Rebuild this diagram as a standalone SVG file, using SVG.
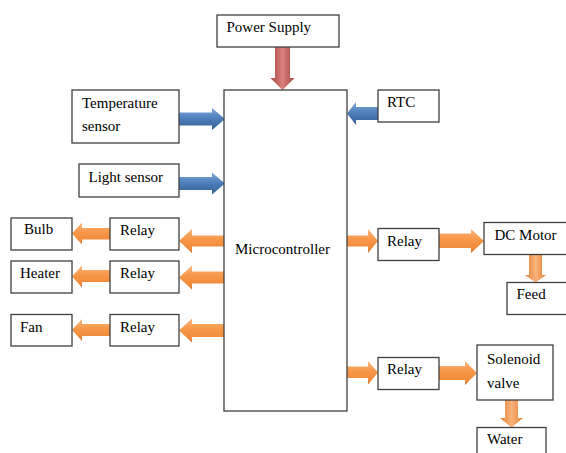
<svg xmlns="http://www.w3.org/2000/svg" width="566" height="453" viewBox="0 0 566 453">
<style>
.box{fill:#fff;stroke:#3f3f3f;stroke-width:1.3}
.ob{fill:url(#gOrH)}
.ov{fill:url(#gOrV)}
.bl{fill:url(#gBlH)}
.rd{fill:url(#gRdV)}
</style>
<defs>
<linearGradient id="gOrH" x1="0" y1="0" x2="0" y2="1">
<stop offset="0" stop-color="#fbb67e"/>
<stop offset="0.45" stop-color="#f79646"/>
<stop offset="0.85" stop-color="#f0893a"/>
<stop offset="1" stop-color="#c5692a"/>
</linearGradient>
<linearGradient id="gOrV" x1="0" y1="0" x2="1" y2="0">
<stop offset="0" stop-color="#e08035"/>
<stop offset="0.5" stop-color="#fbb27a"/>
<stop offset="1" stop-color="#e08035"/>
</linearGradient>
<linearGradient id="gBlH" x1="0" y1="0" x2="0" y2="1">
<stop offset="0" stop-color="#7ea6d6"/>
<stop offset="0.45" stop-color="#4f81bd"/>
<stop offset="1" stop-color="#345f93"/>
</linearGradient>
<linearGradient id="gRdV" x1="0" y1="0" x2="1" y2="0">
<stop offset="0" stop-color="#a94441"/>
<stop offset="0.5" stop-color="#d9807d"/>
<stop offset="1" stop-color="#a94441"/>
</linearGradient>
</defs>

<g id="connectors">
<polygon class="rd" points="275,47 290,47 290,78 294.5,78 282.5,90 270.5,78 275,78"/>
<polygon class="bl" points="179,112.5 212,112.5 212,108 225,119 212,130 212,125.5 179,125.5"/>
<polygon class="bl" points="179,177 212,177 212,172.5 225,183.5 212,194.5 212,190 179,190"/>
<polygon class="bl" points="378,107 356,107 356,102 347,113.5 356,125 356,120 378,120"/>
<polygon class="ob" points="224,235.5 192,235.5 192,229 179,241 192,253 192,246.5 224,246.5"/>
<polygon class="ob" points="224,271.5 192,271.5 192,265.5 179,277.5 192,289.5 192,283.5 224,283.5"/>
<polygon class="ob" points="224,324 192,324 192,318.5 179,330.5 192,342.5 192,337 224,337"/>
<polygon class="ob" points="110,228 82,228 82,222.5 72,233.5 82,244.5 82,239.5 110,239.5"/>
<polygon class="ob" points="110,270 82,270 82,265.5 72,276.5 82,287.5 82,282 110,282"/>
<polygon class="ob" points="110,324 82,324 82,319 72,330 82,341 82,336 110,336"/>
<polygon class="ob" points="347,235.5 368,235.5 368,229 378,241 368,253 368,246.5 347,246.5"/>
<polygon class="ob" points="439,233.5 471,233.5 471,229 484,241 471,253 471,248 439,248"/>
<polygon class="ov" points="529,254.5 542,254.5 542,275 546,275 535.5,282.5 525,275 529,275"/>
<polygon class="ob" points="347,366.5 368,366.5 368,361 378,372.5 368,384.5 368,378 347,378"/>
<polygon class="ob" points="439,366 465,366 465,361 477,373 465,385 465,380 439,380"/>
<polygon class="ov" points="505,400 518,400 518,418 523,418 511.5,427.5 500,418 505,418"/>
</g>

<g font-family="Liberation Serif, DejaVu Serif, serif" font-size="15" fill="#000">
<g id="power-supply"><rect class="box" x="217" y="15" width="122" height="32"/><text x="226.5" y="31.5">Power Supply</text></g>
<g id="microcontroller"><rect class="box" x="224" y="90" width="123" height="321"/><text x="235" y="253.5">Microcontroller</text></g>
<g id="temperature-sensor"><rect class="box" x="72" y="90" width="107" height="53"/><text x="82" y="107.5">Temperature</text><text x="82" y="130.5">sensor</text></g>
<g id="light-sensor"><rect class="box" x="79" y="164" width="100" height="33"/><text x="88.5" y="181.5">Light sensor</text></g>
<g id="rtc"><rect class="box" x="378" y="90" width="61" height="32"/><text x="387" y="106.5">RTC</text></g>
<g id="bulb"><rect class="box" x="11" y="218" width="61" height="32"/><text x="24" y="234">Bulb</text></g>
<g id="relay-bulb"><rect class="box" x="110" y="218" width="69" height="32"/><text x="120" y="234.5">Relay</text></g>
<g id="heater"><rect class="box" x="11" y="261" width="61" height="32"/><text x="20" y="278">Heater</text></g>
<g id="relay-heater"><rect class="box" x="110" y="261" width="69" height="32"/><text x="120" y="278">Relay</text></g>
<g id="fan"><rect class="box" x="11" y="314.5" width="61" height="31.5"/><text x="20" y="332">Fan</text></g>
<g id="relay-fan"><rect class="box" x="110" y="314.5" width="69" height="31.5"/><text x="120" y="332">Relay</text></g>
<g id="relay-motor"><rect class="box" x="378" y="228.5" width="61" height="32"/><text x="387" y="245.5">Relay</text></g>
<g id="dc-motor"><rect class="box" x="484" y="222.5" width="90" height="32"/><text x="494.5" y="239.5">DC Motor</text></g>
<g id="feed"><rect class="box" x="507" y="282.5" width="70" height="32"/><text x="516.5" y="298.5">Feed</text></g>
<g id="relay-valve"><rect class="box" x="378" y="357.5" width="61" height="32"/><text x="387" y="373.5">Relay</text></g>
<g id="solenoid-valve"><rect class="box" x="477" y="345" width="76" height="55"/><text x="487" y="364">Solenoid</text><text x="487" y="387.5">valve</text></g>
<g id="water"><rect class="box" x="477" y="427.5" width="69" height="40"/><text x="487" y="444">Water</text></g>
</g>
</svg>
